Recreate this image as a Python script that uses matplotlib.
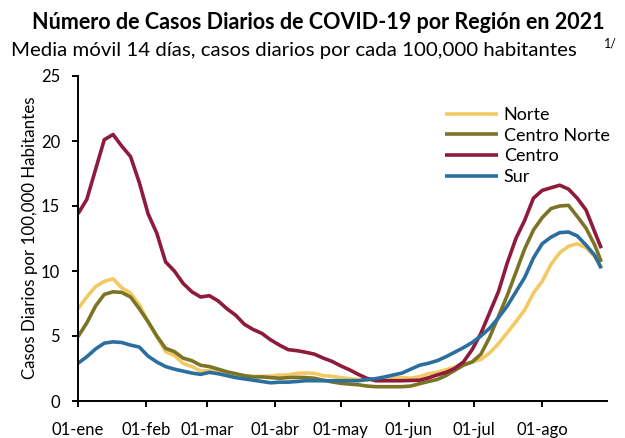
import matplotlib
matplotlib.use("Agg")
import matplotlib.pyplot as plt

# ---- data (day of year 2021, 0 = 01-ene) ----
days = [0, 4, 8, 12, 16, 20, 24, 28, 32, 36, 40, 44, 48, 52, 56, 60, 64, 68, 72, 76,
        80, 84, 88, 92, 96, 100, 104, 108, 112, 116, 120, 124, 128, 132, 136, 140,
        144, 148, 152, 156, 160, 164, 168, 172, 176, 180, 184, 188, 192, 196, 200,
        204, 208, 212, 216, 220, 224, 228, 232, 236, 239]

norte = [7.1, 8.0, 8.8, 9.2, 9.4, 8.7, 8.3, 7.4, 6.1, 4.95, 3.8, 3.5, 2.9, 2.65, 2.3, 2.35,
         2.2, 2.1, 2.0, 1.92, 1.9, 1.9, 1.92, 2.0, 2.0, 2.13, 2.15, 2.13, 1.95, 1.9, 1.8,
         1.72, 1.65, 1.6, 1.67, 1.67, 1.75, 1.8, 1.75, 1.87, 2.1, 2.2, 2.4, 2.6, 2.85, 3.0,
         3.2, 3.7, 4.4, 5.25, 6.1, 7.0, 8.3, 9.2, 10.5, 11.4, 11.9, 12.1, 11.8, 11.1, 10.3]

centro_norte = [4.95, 6.0, 7.3, 8.2, 8.4, 8.35, 8.0, 7.1, 6.1, 5.0, 4.05, 3.8, 3.3, 3.1, 2.75,
                2.65, 2.45, 2.25, 2.1, 1.95, 1.85, 1.85, 1.8, 1.75, 1.8, 1.82, 1.8, 1.75, 1.6,
                1.47, 1.36, 1.3, 1.25, 1.15, 1.1, 1.1, 1.1, 1.1, 1.15, 1.33, 1.5, 1.65, 1.95,
                2.35, 2.75, 3.0, 3.6, 4.9, 6.5, 8.1, 9.9, 11.7, 13.15, 14.1, 14.8, 15.0, 15.05,
                14.2, 13.3, 12.0, 10.7]

centro = [14.4, 15.5, 17.8, 20.1, 20.5, 19.6, 18.8, 16.8, 14.4, 12.9, 10.7, 10.0, 9.05, 8.4,
          8.0, 8.1, 7.7, 7.1, 6.6, 5.9, 5.5, 5.2, 4.7, 4.3, 3.95, 3.87, 3.75, 3.6, 3.3, 3.05,
          2.7, 2.4, 2.05, 1.74, 1.56, 1.56, 1.56, 1.56, 1.58, 1.6, 1.78, 2.0, 2.2, 2.5, 3.0,
          3.95, 5.2, 6.8, 8.4, 10.6, 12.5, 13.9, 15.6, 16.2, 16.4, 16.6, 16.3, 15.6, 14.7,
          13.0, 11.75]

sur = [2.9, 3.4, 4.0, 4.45, 4.55, 4.5, 4.3, 4.15, 3.45, 3.0, 2.65, 2.45, 2.3, 2.15, 2.05, 2.2,
       2.1, 1.95, 1.8, 1.7, 1.6, 1.5, 1.4, 1.45, 1.45, 1.5, 1.56, 1.56, 1.56, 1.56, 1.56, 1.56,
       1.56, 1.65, 1.72, 1.85, 2.0, 2.15, 2.45, 2.75, 2.9, 3.1, 3.4, 3.75, 4.1, 4.5, 5.0, 5.6,
       6.4, 7.3, 8.4, 9.5, 11.0, 12.1, 12.6, 12.95, 13.0, 12.7, 12.0, 11.2, 10.2]

series_names = ["Norte", "Centro Norte", "Centro", "Sur"]
series_values = [norte, centro_norte, centro, sur]
series_colors = ["#F3C963", "#7B7427", "#8E1A3C", "#2B6F9F"]

tick_days = [0, 31, 59, 90, 120, 151, 181, 212]
tick_labels = ["01-ene", "01-feb", "01-mar", "01-abr", "01-may", "01-jun", "01-jul", "01-ago"]
y_ticks = [0, 5, 10, 15, 20, 25]

FONT = "Lato"
plt.rcParams["font.family"] = [FONT, "DejaVu Sans"]

W, H = 625, 438
fig = plt.figure(figsize=(W / 100, H / 100), dpi=100)
ax = fig.add_axes([78 / W, 1 - 401 / H, (607 - 78) / W, (401 - 76) / H])

for name, vals, col in zip(series_names, series_values, series_colors):
    ax.plot(days, vals, color=col, lw=2.6, label=name, solid_capstyle="butt",
            solid_joinstyle="round")

ax.set_xlim(0, 241.6)
ax.set_ylim(0, 25)
ax.set_xticks(tick_days)
ax.set_xticklabels(tick_labels)
ax.set_yticks(y_ticks)

for s in ["top", "right"]:
    ax.spines[s].set_visible(False)
for s in ["left", "bottom"]:
    ax.spines[s].set_linewidth(1.4)
    ax.spines[s].set_color("black")

ax.tick_params(axis="x", direction="out", length=4, width=1.4, pad=11, labelsize=12,
               colors="black")
ax.tick_params(axis="y", direction="out", length=4, width=1.4, pad=9, labelsize=12,
               colors="black")

fig.text(30 / W, 1 - 238 / H, "Casos Diarios por 100,000 Habitantes", rotation=90,
         ha="center", va="center", fontsize=12.2)

fig.text(318.5 / W, 1 - 29 / H, "Número de Casos Diarios de COVID-19 por Región en 2021",
         ha="center", va="baseline", fontsize=15.5, fontweight="bold")
fig.text(294 / W, 1 - 56 / H, "Media móvil 14 días, casos diarios por cada 100,000 habitantes",
         ha="center", va="baseline", fontsize=14.7)
fig.text(604 / W, 1 - 47 / H, "1/", ha="left", va="baseline", fontsize=9)

leg = ax.legend(loc="upper left", bbox_to_anchor=(445 / W, 1 - 107 / H),
                bbox_transform=fig.transFigure, frameon=False, fontsize=13,
                handlelength=2.93, handletextpad=0.33, labelspacing=0.26,
                borderpad=0, borderaxespad=0)

fig.savefig("out.png", dpi=100)
